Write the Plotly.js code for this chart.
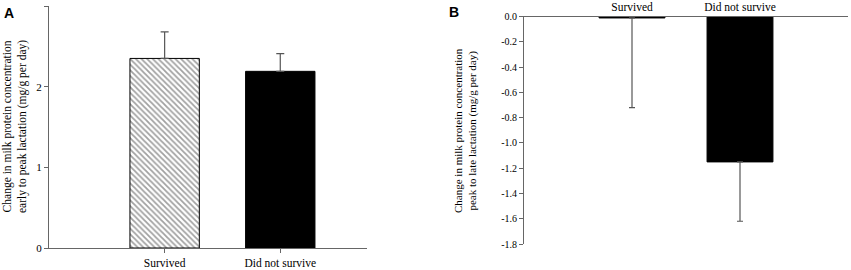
<!DOCTYPE html>
<html>
<head>
<meta charset="utf-8">
<script src="https://cdn.plot.ly/plotly-3.0.1.min.js"></script>
<style>html,body{margin:0;padding:0;background:#fff;}#chart{width:851px;height:270px;}</style>
</head>
<body>
<div id="chart"></div>
<script>
const categories = ["Survived", "Did not survive"];
const earlyToPeak = [2.35, 2.19];
const earlyToPeakErr = [0.33, 0.22];
const peakToLate = [-0.01, -1.15];
const peakToLateErr = [0.71, 0.47];
const yTicksA = [0, 1, 2, 3];
const yTicksB = [0, -0.2, -0.4, -0.6, -0.8, -1.0, -1.2, -1.4, -1.6, -1.8];
const titleA = "Change in milk protein concentration<br>early to peak lactation (mg/g per day)";
const titleB = "Change in milk protein concentration<br>peak to late lactation (mg/g per day)";

const W = 851, H = 270;
const serif = "Liberation Serif";
const sans = "Liberation Sans";
const axisCol = "#666";

const traceA = {
  type: "bar", x: categories, y: earlyToPeak, xaxis: "x", yaxis: "y",
  width: 0.6,
  marker: {
    color: ["#ffffff", "#000000"],
    line: {color: "#000", width: 1},
    pattern: {shape: ["\\", ""], size: 4, solidity: 0.45, fgcolor: "#000", bgcolor: "#fff", fillmode: "overlay"}
  },
  error_y: {type: "data", array: earlyToPeakErr, arrayminus: [0, 0], symmetric: false,
            color: "#555", thickness: 1.2, width: 4},
  showlegend: false, hoverinfo: "skip"
};

const traceB = {
  type: "bar", x: categories, y: peakToLate, xaxis: "x2", yaxis: "y2",
  width: 0.61,
  marker: {color: "#000", line: {color: "#000", width: 1}},
  error_y: {type: "data", array: [0, 0], arrayminus: peakToLateErr, symmetric: false,
            color: "#555", thickness: 1.2, width: 3},
  showlegend: false, hoverinfo: "skip"
};

const layout = {
  width: W, height: H,
  margin: {l: 0, r: 0, t: 0, b: 0},
  paper_bgcolor: "#fff", plot_bgcolor: "rgba(0,0,0,0)",
  font: {family: serif, size: 11.5, color: "#000"},
  bargap: 0,
  xaxis: {
    domain: [49 / W, 367 / W], anchor: "y", range: [-1, 1.75],
    showline: true, linecolor: axisCol, linewidth: 1, ticks: "outside", ticklen: 4,
    tickcolor: axisCol, showgrid: false, zeroline: false,
    tickfont: {family: serif, size: 11.5, color: "#000"},
    fixedrange: true
  },
  yaxis: {
    domain: [(H - 248) / H, (H - 6) / H], anchor: "x", range: [0, 3],
    tickvals: yTicksA, ticktext: yTicksA.map(String),
    showline: true, linecolor: axisCol, linewidth: 1, ticks: "outside", ticklen: 4,
    tickcolor: axisCol, showgrid: false, zeroline: false,
    tickfont: {family: serif, size: 11, color: "#000"},
    fixedrange: true
  },
  xaxis2: {
    domain: [524 / W, 848 / W], anchor: "y2", range: [-1, 2], side: "top",
    showline: true, linecolor: axisCol, linewidth: 1, ticks: "", ticklen: 0,
    showgrid: false, zeroline: false,
    tickfont: {family: serif, size: 11.5, color: "#000"},
    fixedrange: true
  },
  yaxis2: {
    domain: [(H - 244) / H, (H - 16.7) / H], anchor: "x2", range: [-1.8, 0],
    tickvals: yTicksB, ticktext: yTicksB.map(v => v.toFixed(1)),
    showline: true, linecolor: axisCol, linewidth: 1, ticks: "outside", ticklen: 4,
    tickcolor: axisCol, showgrid: false, zeroline: false,
    tickfont: {family: serif, size: 10, color: "#000"},
    fixedrange: true
  },
  annotations: [
    {text: titleA, xref: "paper", yref: "paper", x: 15 / W, y: 1 - 127 / H, xanchor: "center", yanchor: "middle",
     textangle: -90, showarrow: false, font: {family: serif, size: 11.5, color: "#000"}},
    {text: titleB, xref: "paper", yref: "paper", x: 465 / W, y: 1 - 131 / H, xanchor: "center", yanchor: "middle",
     textangle: -90, showarrow: false, font: {family: serif, size: 11, color: "#000"}},
    {text: "<b>A</b>", xref: "paper", yref: "paper", x: 2 / W, y: 1 - 3 / H, xanchor: "left", yanchor: "top",
     showarrow: false, font: {family: sans, size: 14, color: "#000"}},
    {text: "<b>B</b>", xref: "paper", yref: "paper", x: 447 / W, y: 1 - 2 / H, xanchor: "left", yanchor: "top",
     showarrow: false, font: {family: sans, size: 14, color: "#000"}}
  ]
};

Plotly.newPlot("chart", [traceA, traceB], layout, {staticPlot: true, displayModeBar: false}).then(function () {
  // make pattern fill references local so the hatch renders regardless of page URL
  document.querySelectorAll("#chart path").forEach(function (p) {
    const f = p.style.fill || "";
    if (f.indexOf("url(") !== -1) {
      const m = f.match(/#([^"')]+)/);
      if (m) p.style.fill = "url(#" + m[1] + ")";
    }
  });
});
</script>
</body>
</html>
